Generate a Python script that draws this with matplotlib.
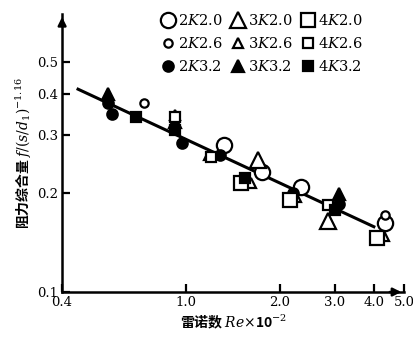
import matplotlib
matplotlib.use("Agg")
import matplotlib.pyplot as plt
from matplotlib.ticker import FixedLocator, NullLocator

plt.rcParams['font.family'] = ['Noto Sans CJK SC', 'DejaVu Sans']
plt.rcParams['mathtext.fontset'] = 'dejavuserif'

# Re x 10^-2 and f/(s/d1)^-1.16
re_2k20 = [1.32, 1.75, 2.34, 4.35]
f_2k20 = [0.280, 0.232, 0.208, 0.162]
re_2k26 = [0.735, 4.35]
f_2k26 = [0.375, 0.172]
re_2k32 = [0.56, 0.58, 0.97, 1.28, 2.2, 3.1]
f_2k32 = [0.375, 0.348, 0.284, 0.262, 0.200, 0.185]

re_3k20 = [1.70, 2.85]
f_3k20 = [0.252, 0.165]
re_3k26 = [0.92, 1.18, 1.62, 2.25, 4.3]
f_3k26 = [0.345, 0.262, 0.215, 0.195, 0.148]
re_3k32 = [0.56, 0.92, 3.1]
f_3k32 = [0.400, 0.330, 0.198]

re_4k20 = [1.50, 2.15, 4.1]
f_4k20 = [0.215, 0.190, 0.146]
re_4k26 = [0.92, 1.20, 2.85]
f_4k26 = [0.340, 0.258, 0.184]
re_4k32 = [0.69, 0.92, 1.55, 3.0]
f_4k32 = [0.340, 0.312, 0.222, 0.178]

line_re = [0.45, 4.0]
line_f = [0.414, 0.158]

x_ticks = [0.4, 1.0, 2.0, 3.0, 4.0, 5.0]
x_labels = ['0.4', '1.0', '2.0', '3.0', '4.0', '5.0']
y_ticks = [0.1, 0.2, 0.3, 0.4, 0.5]
y_labels = ['0.1', '0.2', '0.3', '0.4', '0.5']

series = [
    (re_2k20, f_2k20, 'o', 11, 'white', r'2$K$2.0'),
    (re_2k26, f_2k26, 'o', 6, 'white', r'2$K$2.6'),
    (re_2k32, f_2k32, 'o', 7.5, 'black', r'2$K$3.2'),
    (re_3k20, f_3k20, '^', 11, 'white', r'3$K$2.0'),
    (re_3k26, f_3k26, '^', 7, 'white', r'3$K$2.6'),
    (re_3k32, f_3k32, '^', 8, 'black', r'3$K$3.2'),
    (re_4k20, f_4k20, 's', 10, 'white', r'4$K$2.0'),
    (re_4k26, f_4k26, 's', 7, 'white', r'4$K$2.6'),
    (re_4k32, f_4k32, 's', 7.5, 'black', r'4$K$3.2'),
]

fig = plt.figure(figsize=(4.14, 3.38), dpi=100)
ax = fig.add_axes([0.150, 0.136, 0.826, 0.822])

ax.plot(line_re, line_f, color='black', lw=2.2, zorder=2)
for x, y, m, ms, fc, lab in series:
    ax.plot(x, y, linestyle='none', marker=m, markersize=ms, markerfacecolor=fc,
            markeredgecolor='black', markeredgewidth=1.6, label=lab, zorder=3)

ax.set_xscale('log')
ax.set_yscale('log')
ax.set_xlim(0.4, 5.0)
ax.set_ylim(0.1, 0.7)

ax.xaxis.set_major_locator(FixedLocator(x_ticks))
ax.xaxis.set_minor_locator(NullLocator())
ax.yaxis.set_major_locator(FixedLocator(y_ticks))
ax.yaxis.set_minor_locator(NullLocator())
ax.set_xticklabels(x_labels, family='DejaVu Serif', fontsize=9.5)
ax.set_yticklabels(y_labels, family='DejaVu Serif', fontsize=9.5)
ax.tick_params(direction='in', length=6, width=1.6, pad=3)

for s in ['top', 'right']:
    ax.spines[s].set_visible(False)
for s in ['left', 'bottom']:
    ax.spines[s].set_linewidth(1.8)
ax.annotate('', xy=(0, 1.0), xytext=(0, 0.95), xycoords='axes fraction',
            arrowprops=dict(arrowstyle='-|>', color='black', lw=1.8, mutation_scale=12))
ax.annotate('', xy=(1.0, 0), xytext=(0.95, 0), xycoords='axes fraction',
            arrowprops=dict(arrowstyle='-|>', color='black', lw=1.8, mutation_scale=12))

ax.set_xlabel(r'雷诺数 $Re$$\times$10$^{-2}$', fontsize=10, fontweight='bold', labelpad=2)
ax.set_ylabel(r'阻力综合量 $f/(s/d_1)^{-1.16}$', fontsize=10, fontweight='bold', labelpad=2)

ax.legend(ncol=3, loc='upper left', bbox_to_anchor=(0.255, 1.04), frameon=False,
          handletextpad=0.15, columnspacing=0.5, labelspacing=0.55, borderpad=0.2,
          handlelength=1.1, prop={'family': 'DejaVu Serif', 'size': 10.5})

fig.savefig('out.png', dpi=100)
